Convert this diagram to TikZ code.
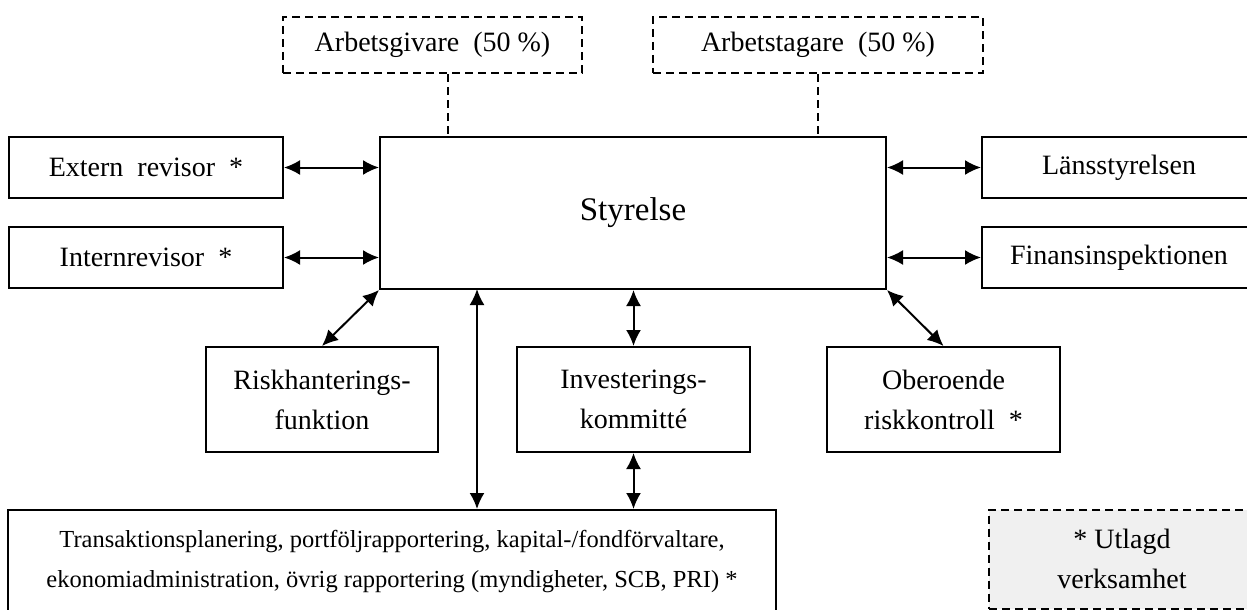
\documentclass[tikz,border=0pt]{standalone}
\usepackage{fontspec}
\setmainfont{Liberation Serif}
\usetikzlibrary{arrows.meta}

\begin{document}
\begin{tikzpicture}[x=1pt,y=-1pt,
    box/.style={draw,line width=2pt,inner sep=0pt,align=center,
      font=\fontsize{28}{40}\selectfont},
    dbox/.style={box,dash pattern=on 8pt off 5pt},
    dline/.style={line width=2pt,dash pattern=on 8pt off 5pt},
    link/.style={line width=2pt,
      {Latex[length=16pt,width=15pt]}-{Latex[length=16pt,width=15pt]}}]
  \useasboundingbox (0,0) rectangle (1247,610);
  \clip (0,0) rectangle (1247,610);

  % owners
  \node (giv) at (432.5,45) [dbox,minimum width=299pt,minimum height=56pt] {Arbetsgivare~~(50~\%)};
  \node (tag) at (818,45) [dbox,minimum width=330pt,minimum height=56pt] {Arbetstagare~~(50~\%)};

  % board and the boxes round it
  \node (styr) at (633,213) [box,minimum width=506pt,minimum height=152pt] {\fontsize{33}{40}\selectfont Styrelse};
  \node (ext) at (146,167.5) [box,minimum width=274pt,minimum height=61pt] {Extern~~revisor~~*};
  \node (int) at (146,257.5) [box,minimum width=274pt,minimum height=61pt] {Internrevisor~~*};
  \node (lans) at (1119,167.5) [box,minimum width=274pt,minimum height=61pt] {Länsstyrelsen};
  \node (fi) at (1119,257.5) [box,minimum width=274pt,minimum height=61pt] {Finansinspektionen};

  \node (risk) at (322,399.5) [box,minimum width=232pt,minimum height=105pt] {Riskhanterings-\\funktion};
  \node (inv) at (633.5,399.5) [box,minimum width=233pt,minimum height=105pt] {Investerings-\\kommitté};
  \node (obe) at (943.5,399.5) [box,minimum width=233pt,minimum height=105pt] {Oberoende\\riskkontroll~~*};

  \node (ops) at (392,562) [box,minimum width=768pt,minimum height=104pt,font=\fontsize{24.5}{40}\selectfont]
    {Transaktionsplanering, portföljrapportering, kapital-/fondförvaltare,\\
     ekonomiadministration, övrig rapportering (myndigheter, SCB, PRI)~*};
  \node (utl) at (1122,559) [dbox,fill=gray!12,minimum width=266pt,minimum height=99pt] {*~Utlagd\\verksamhet};

  \coordinate (givdrop) at (448,0);
  \coordinate (vtop) at (477,289);

  \draw[dline] (giv.south -| givdrop) -- (styr.north -| givdrop);
  \draw[dline] (tag.south) -- (tag.south |- styr.north);

  \draw[link] (ext.east) -- (ext.east -| styr.west);
  \draw[link] (int.east) -- (int.east -| styr.west);
  \draw[link] (lans.west) -- (lans.west -| styr.east);
  \draw[link] (fi.west) -- (fi.west -| styr.east);
  \draw[link] (styr.south west) -- (risk.north);
  \draw[link] (styr.south east) -- (obe.north);
  \draw[link] (inv.north |- styr.south) -- (inv.north);
  \draw[link] (inv.south) -- (inv.south |- ops.north);
  \draw[link] (vtop) -- (vtop |- ops.north);
\end{tikzpicture}
\end{document}
